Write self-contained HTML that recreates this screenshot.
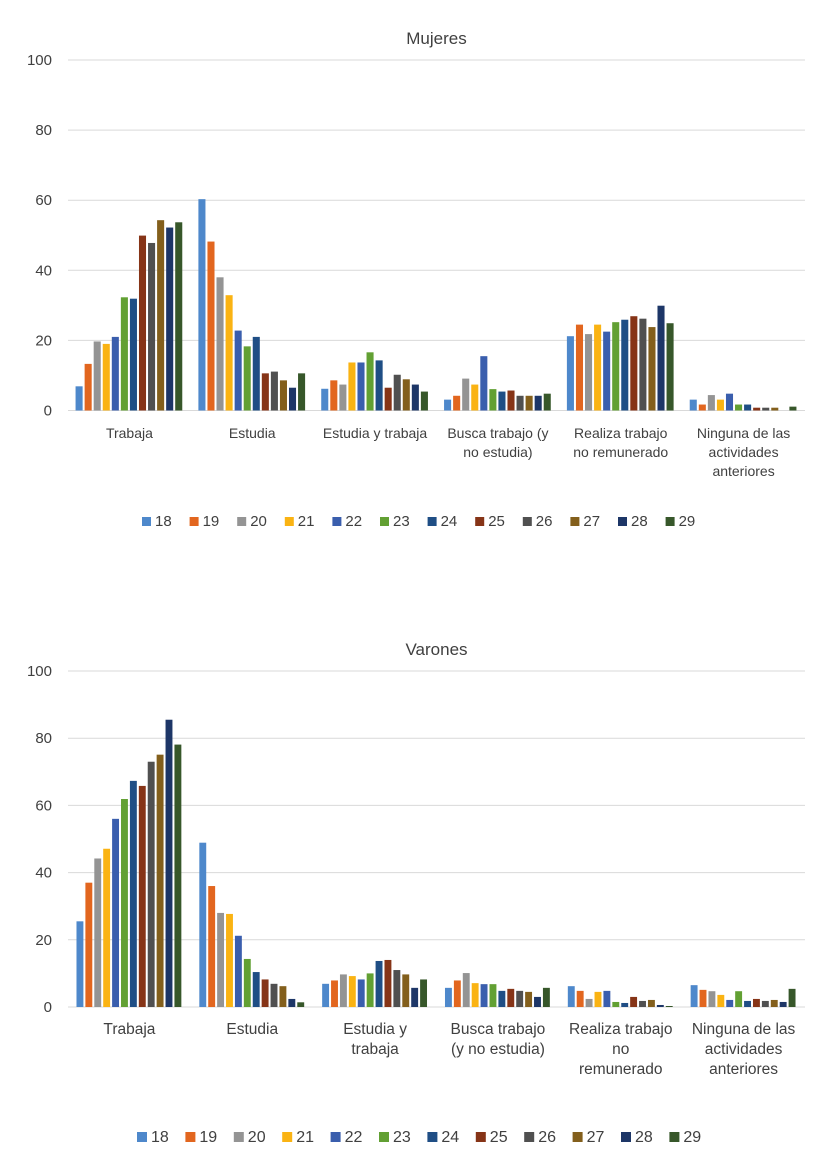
<!DOCTYPE html>
<html><head><meta charset="utf-8">
<style>
body{margin:0;background:#fff;width:834px;height:1176px;overflow:hidden;font-family:"Liberation Sans",sans-serif;}
svg{display:block}
</style></head>
<body>
<svg id="chart" width="834" height="1176"></svg>
<script>
const categoriesTop = ["Trabaja","Estudia","Estudia y trabaja","Busca trabajo (y no estudia)","Realiza trabajo no remunerado","Ninguna de las actividades anteriores"];
const labelsTop = [["Trabaja"],["Estudia"],["Estudia y trabaja"],["Busca trabajo (y","no estudia)"],["Realiza trabajo","no remunerado"],["Ninguna de las","actividades","anteriores"]];
const labelsBottom = [["Trabaja"],["Estudia"],["Estudia y","trabaja"],["Busca trabajo","(y no estudia)"],["Realiza trabajo","no","remunerado"],["Ninguna de las","actividades","anteriores"]];
const ages = ["18","19","20","21","22","23","24","25","26","27","28","29"];
const yTicks = [0,20,40,60,80,100];
// values per category (rows), per age (columns)
const mujeres = [
 [6.9,13.3,19.7,19.0,21.0,32.3,31.9,49.9,47.8,54.3,52.2,53.7],
 [60.3,48.2,38.0,32.9,22.8,18.3,21.0,10.6,11.1,8.6,6.5,10.6],
 [6.2,8.6,7.4,13.7,13.7,16.6,14.3,6.5,10.2,8.9,7.4,5.4],
 [3.1,4.2,9.1,7.4,15.5,6.1,5.4,5.7,4.2,4.2,4.2,4.8],
 [21.2,24.5,21.8,24.5,22.5,25.2,25.9,26.9,26.2,23.8,29.9,24.9],
 [3.1,1.7,4.4,3.1,4.8,1.7,1.7,0.8,0.8,0.8,0,1.1]
];
const varones = [
 [25.5,37.0,44.2,47.1,56.0,61.9,67.3,65.8,73.0,75.1,85.5,78.1],
 [48.9,36.0,28.0,27.7,21.2,14.3,10.4,8.2,6.9,6.2,2.4,1.4],
 [6.9,7.9,9.7,9.2,8.2,10.0,13.7,14.0,11.0,9.7,5.7,8.2],
 [5.7,7.9,10.1,7.1,6.8,6.8,4.8,5.4,4.8,4.5,3.0,5.7],
 [6.2,4.8,2.4,4.5,4.8,1.5,1.2,3.0,1.8,2.1,0.6,0.3],
 [6.5,5.1,4.7,3.6,2.1,4.7,1.8,2.4,1.8,2.1,1.5,5.4]
];
const colors = ["#4e88cb","#e2661f","#949494","#fab313","#3a5ead","#62a033","#1f4e85","#863417","#505050","#835f1c","#1d3667","#37572a"];
const NS="http://www.w3.org/2000/svg";
const svg=document.getElementById('chart');
function mk(tag,attrs,parent){const e=document.createElementNS(NS,tag);for(const k in attrs)e.setAttribute(k,attrs[k]);(parent||svg).appendChild(e);return e;}

function drawChart(cfg,data,labels){
  const g=mk('g',{});
  
  
  const y=v=>cfg.y0-(v/100)*(cfg.y0-cfg.y100);
  const gw=(cfg.right-cfg.left)/6;
  const step=gw*cfg.fill/12;
  const t=mk('text',{x:(cfg.left+cfg.right)/2,y:cfg.titleY,'text-anchor':'middle','font-size':cfg.titleSize,fill:'#404040'},g);
  t.textContent=cfg.title;
  
  
  yTicks.forEach(v=>{
    const l=mk('line',{x1:cfg.left,x2:cfg.right,y1:y(v),y2:y(v),stroke:'#d9d9d9','stroke-width':1},g);
    
    
    const tx=mk('text',{x:52,y:y(v)+5,'text-anchor':'end','font-size':cfg.tickSize,fill:'#404040'},g);
    tx.textContent=v;
    
    
  });
  data.forEach((row,ci)=>{
    const gx=cfg.left+ci*gw+(gw-step*12)/2;
    row.forEach((v,ai)=>{
      const r=mk('rect',{x:gx+ai*step+0.5,y:y(v),width:step-2,height:Math.max(0,y(0)-y(v)),fill:colors[ai]},g);
      
      
    });
    labels[ci].forEach((ln,li)=>{
      const tx=mk('text',{x:cfg.left+ci*gw+gw/2,y:cfg.labY+li*cfg.labLH,'text-anchor':'middle','font-size':cfg.labSize,fill:'#404040'},g);
      tx.textContent=ln;
      
      
    });
  });
  ages.forEach((a,i)=>{
    const lx=cfg.legX+i*cfg.legStep;
    const s=mk('rect',{x:lx,y:cfg.legY-cfg.legSq+1,width:cfg.legSq,height:cfg.legSq,fill:colors[i]},g);
    
    
    const tx=mk('text',{x:lx+cfg.legSq+4,y:cfg.legY+1,'font-size':cfg.legSize,fill:'#404040'},g);
    tx.textContent=a;
    
    
  });
}
drawChart({name:'mujeres-chart',title:'Mujeres',titleY:44,titleSize:17,left:68,right:805,y0:410.5,y100:60,fill:0.885,tickSize:15,labY:438,labLH:19,labSize:14,legX:142,legStep:47.6,legY:525,legSq:9,legSize:15},mujeres,labelsTop);
drawChart({name:'varones-chart',title:'Varones',titleY:655,titleSize:17,left:68,right:805,y0:1007,y100:671,fill:0.87,tickSize:15,labY:1034,labLH:20,labSize:15.5,legX:137,legStep:48.4,legY:1141,legSq:10,legSize:16},varones,labelsBottom);
</script>
</body></html>
